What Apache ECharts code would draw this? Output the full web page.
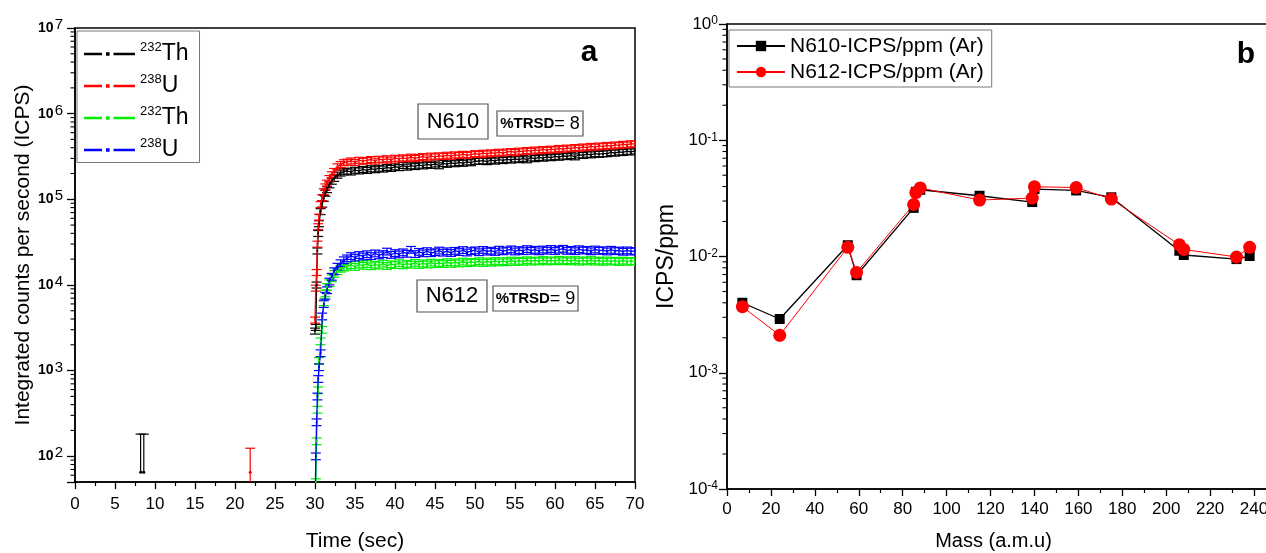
<!DOCTYPE html>
<html>
<head>
<meta charset="utf-8">
<title>ICPS time scan and sensitivity</title>
<script src="https://cdn.jsdelivr.net/npm/echarts@6/dist/echarts.min.js"></script>
<style>
  html, body { margin: 0; padding: 0; background: #fff; }
  #chart { width: 1266px; height: 553px; }
</style>
</head>
<body>
<div id="chart"></div>
<script>
// ---- panel a: integrated counts vs time (values in thousands of counts) ----
const times = [
  30.0, 30.1, 30.2, 30.3, 30.4, 30.5, 30.7, 30.9, 31.1, 31.3, 31.5, 31.8, 32.1, 32.4, 32.8, 33.2, 33.6,
  34.0, 34.5, 35.0, 35.5, 36.0, 36.5, 37.0, 37.5, 38.0, 38.5,
  39.0, 39.5, 40.0, 40.5, 41.0, 41.5, 42.0, 42.5, 43.0, 43.5,
  44.0, 44.5, 45.0, 45.5, 46.0, 46.5, 47.0, 47.5, 48.0, 48.5,
  49.0, 49.5, 50.0, 50.5, 51.0, 51.5, 52.0, 52.5, 53.0, 53.5,
  54.0, 54.5, 55.0, 55.5, 56.0, 56.5, 57.0, 57.5, 58.0, 58.5,
  59.0, 59.5, 60.0, 60.5, 61.0, 61.5, 62.0, 62.5, 63.0, 63.5,
  64.0, 64.5, 65.0, 65.5, 66.0, 66.5, 67.0, 67.5, 68.0, 68.5,
  69.0, 69.5, 70.0
];
const th610 = [
  2.9, 3.2, 10, 25, 40, 52, 72, 88, 103, 118, 130, 148, 163, 176, 192, 203, 210,
  214, 209, 219, 215, 224, 218, 228, 222, 231, 226,
  236, 230, 240, 235, 249, 238, 247, 242, 251, 246,
  255, 250, 259, 247, 262, 257, 266, 261, 270, 264,
  274, 268, 278, 279, 282, 276, 286, 280, 290, 284,
  293, 288, 297, 291, 301, 290, 305, 299, 309, 303,
  313, 307, 317, 311, 321, 316, 326, 314, 331, 326,
  337, 331, 342, 336, 341, 342, 353, 347, 358, 353,
  364, 358, 368
];
const u610 = [
  3.9, 9.2, 14, 30, 48, 62, 87, 105, 123, 140, 155, 175, 194, 212, 240, 255, 268,
  272, 281, 270, 286, 279, 284, 292, 280, 294, 289,
  298, 288, 302, 296, 305, 299, 311, 301, 309, 316,
  305, 320, 313, 322, 317, 328, 319, 331, 325, 336,
  327, 333, 342, 334, 346, 339, 350, 343, 355, 347,
  357, 362, 352, 366, 360, 372, 364, 377, 369, 382,
  374, 386, 379, 393, 385, 397, 390, 403, 396, 409,
  401, 415, 407, 420, 413, 426, 418, 432, 425, 439,
  431, 446, 440
];
const th612 = [
  0.02, 0.05, 0.15, 0.35, 0.59, 1.3, 2.2, 3.0, 6.3, 8.0, 9.5, 10.5, 12.0, 13.5, 14.5, 15.5, 16.0,
  16.4, 17.1, 16.3, 17.4, 16.8, 17.6, 16.6, 17.3, 16.9, 17.8,
  16.7, 17.5, 17.1, 18.0, 17.0, 17.7, 17.3, 18.2, 17.2, 17.9,
  17.4, 18.3, 17.5, 18.1, 17.6, 18.5, 17.7, 18.4, 17.9, 18.8,
  18.0, 18.6, 18.2, 19.0, 18.1, 18.8, 18.3, 19.1, 18.4, 19.0,
  18.5, 19.3, 18.6, 19.2, 18.7, 19.5, 18.8, 19.3, 18.9, 19.6,
  18.9, 19.4, 19.0, 19.7, 19.0, 19.5, 18.9, 19.6, 18.8, 19.4,
  18.9, 19.6, 18.8, 19.3, 18.7, 19.4, 18.8, 19.2, 18.6, 19.3,
  18.7, 19.1, 18.8
];
const u612 = [
  0.02, 0.1, 0.25, 0.5, 0.8, 1.1, 1.6, 4.3, 6.0, 7.5, 8.7, 11.0, 12.5, 14.5, 16.4, 18.0, 19.5,
  20.5, 21.8, 20.9, 22.4, 21.6, 22.9, 21.8, 23.4, 22.2, 23.0,
  24.6, 22.5, 23.6, 22.8, 24.1, 23.2, 25.8, 23.0, 24.4, 23.5,
  24.9, 23.6, 24.2, 25.3, 23.9, 24.8, 23.7, 25.1, 24.3, 25.6,
  24.0, 24.9, 25.4, 24.2, 25.7, 24.6, 25.2, 24.4, 25.9, 24.8,
  25.3, 26.1, 24.7, 25.6, 24.9, 26.3, 25.1, 25.8, 24.8, 26.0,
  25.2, 26.4, 25.0, 25.9, 26.5, 25.1, 25.8, 24.9, 26.2, 25.3,
  25.7, 24.8, 26.0, 25.1, 25.5, 24.7, 25.8, 24.9, 25.3, 24.5,
  25.4, 24.6, 25.0
];
const rsd610 = 8;
const rsd612 = 9;
// background blips before the ablation starts (raw counts)
const thBgTimes = [8.2, 8.6];
const thBgCounts = [65, 65];
const thBgErr = [116, 116];
const uBgTimes = [21.9];
const uBgCounts = [65];
const uBgErr = [59];

// ---- panel b: sensitivity vs mass ----
const masses = [7, 24, 55, 59, 85, 86, 88, 115, 139, 140, 159, 175, 206, 208, 232, 238];
const icps610 = [0.0040, 0.0029, 0.0125, 0.0069, 0.0262, 0.0360, 0.0375, 0.0333, 0.0294, 0.0380, 0.0370, 0.0323, 0.0112, 0.0103, 0.0095, 0.0101];
const icps612 = [0.0037, 0.0021, 0.0120, 0.0073, 0.0280, 0.0355, 0.0389, 0.0306, 0.0318, 0.0398, 0.0392, 0.0312, 0.0126, 0.0115, 0.0099, 0.0120];

const K = 1000;
const FONT = '"Liberation Sans", Arial, sans-serif';
const NARROW = '"Liberation Sans Narrow", "Arial Narrow", "Liberation Sans", sans-serif';

const pairs = (xs, ys, f) => xs.map((x, i) => [x, ys[i] * f]);
const withRsd = (xs, ys, rsd) => xs.map((x, i) => [x, ys[i] * K, ys[i] * K * rsd / 100]);
const withErr = (xs, ys, es) => xs.map((x, i) => [x, ys[i], es[i]]);

function errorBar(params, api) {
  const x = api.value(0), v = api.value(1), e = api.value(2);
  const hi = api.coord([x, v + e]);
  const hasLow = v - e > 0;
  const lo = api.coord([x, hasLow ? v - e : v]);
  const cap = 5;
  const style = { stroke: api.visual('color'), lineWidth: 1.2 };
  const kids = [
    { type: 'line', shape: { x1: hi[0], y1: hi[1], x2: lo[0], y2: lo[1] }, style: style },
    { type: 'line', shape: { x1: hi[0] - cap, y1: hi[1], x2: hi[0] + cap, y2: hi[1] }, style: style }
  ];
  if (hasLow) {
    kids.push({ type: 'line', shape: { x1: lo[0] - cap, y1: lo[1], x2: lo[0] + cap, y2: lo[1] }, style: style });
  }
  return { type: 'group', children: kids };
}

// short outward tick on the left axis at a log-scale value
function minorTick(params, api) {
  const p = api.coord([api.value(0), api.value(1)]);
  return { type: 'line', shape: { x1: p[0] - 4.5, y1: p[1], x2: p[0], y2: p[1] }, style: { stroke: '#000', lineWidth: 1.1 } };
}

function isPow10(v) {
  const p = Math.round(Math.log10(v));
  return Math.abs(v / Math.pow(10, p) - 1) < 1e-6;
}
function minorValues(d0, d1, lo) {
  const out = [];
  for (let d = d0; d < d1; d++) {
    for (let k = 2; k <= 9; k++) {
      const v = k * Math.pow(10, d);
      if (v > lo * 1.0001) out.push([0, v]);
    }
  }
  return out;
}

const namesA = ['232Th N610', '238U N610', '232Th N612', '238U N612'];
const colorsA = ['#000000', '#ff0000', '#00ee00', '#0000ff'];
const valuesA = [th610, u610, th612, u612];
const rsdA = [rsd610, rsd610, rsd612, rsd612];

const seriesA = [];
namesA.forEach((name, i) => {
  seriesA.push({
    type: 'line', name: name, xAxisIndex: 0, yAxisIndex: 0,
    data: pairs(times, valuesA[i], K),
    symbol: 'circle', symbolSize: 2, showSymbol: true,
    lineStyle: { color: colorsA[i], width: 1.3 },
    itemStyle: { color: colorsA[i] },
    clip: true, z: 3
  });
  seriesA.push({
    type: 'custom', name: name, xAxisIndex: 0, yAxisIndex: 0,
    renderItem: errorBar, data: withRsd(times, valuesA[i], rsdA[i]),
    encode: { x: 0, y: 1 }, itemStyle: { color: colorsA[i] },
    clip: true, z: 3
  });
});
// early background blips
[[thBgTimes, thBgCounts, thBgErr, 0], [uBgTimes, uBgCounts, uBgErr, 1]].forEach(([t, c, e, i]) => {
  seriesA.push({
    type: 'line', name: namesA[i], xAxisIndex: 0, yAxisIndex: 0,
    data: pairs(t, c, 1), symbol: 'circle', symbolSize: 3,
    lineStyle: { color: colorsA[i], width: 1.3 }, itemStyle: { color: colorsA[i] }, clip: true
  });
  seriesA.push({
    type: 'custom', name: namesA[i], xAxisIndex: 0, yAxisIndex: 0,
    renderItem: errorBar, data: withErr(t, c, e),
    encode: { x: 0, y: 1 }, itemStyle: { color: colorsA[i] }, clip: true
  });
});

const axisLineBlack = { show: true, lineStyle: { color: '#000', width: 1.5 } };
const tickBlack = (len) => ({ show: true, inside: false, length: len, lineStyle: { color: '#000', width: 1.3 } });

const chart = echarts.init(document.getElementById('chart'));
chart.setOption({
  animation: false,
  backgroundColor: '#ffffff',
  grid: [
    { left: 75, top: 28, width: 560, height: 454, show: true, borderColor: '#000', borderWidth: 1.5, outerBoundsMode: 'none' },
    { left: 727, top: 24, width: 549, height: 465, show: true, borderColor: '#000', borderWidth: 1.5, outerBoundsMode: 'none' }
  ],
  xAxis: [
    {
      gridIndex: 0, type: 'value', min: 0, max: 70, interval: 5,
      axisLine: axisLineBlack, axisTick: tickBlack(7),
      minorTick: { show: true, splitNumber: 2, length: 4, lineStyle: { color: '#000', width: 1.2 } },
      splitLine: { show: false },
      axisLabel: { color: '#000', fontSize: 17, fontFamily: NARROW, margin: 14 },
      name: 'Time (sec)', nameLocation: 'middle', nameGap: 49,
      nameTextStyle: { color: '#000', fontSize: 21, fontFamily: FONT }
    },
    {
      gridIndex: 1, type: 'value', min: 0, max: 250, interval: 20,
      axisLine: axisLineBlack, axisTick: tickBlack(7),
      minorTick: { show: true, splitNumber: 2, length: 4, lineStyle: { color: '#000', width: 1.2 } },
      splitLine: { show: false },
      axisLabel: { color: '#000', fontSize: 17, fontFamily: FONT, margin: 12, showMaxLabel: false },
      name: 'Mass (a.m.u)', nameLocation: 'middle', nameGap: 42,
      nameTextStyle: { color: '#000', fontSize: 20, fontFamily: FONT, padding: [0, 16, 0, 0] }
    }
  ],
  yAxis: [
    {
      gridIndex: 0, type: 'log', logBase: 10, min: 50, max: 1e7,
      axisLine: axisLineBlack, axisTick: tickBlack(8), splitLine: { show: false },
      axisLabel: {
        margin: 12,
        formatter: (v) => isPow10(v) ? '{b|10}{e|' + Math.round(Math.log10(v)) + '}' : '',
        rich: {
          b: { fontSize: 14, fontWeight: 'bold', fontFamily: NARROW, color: '#000' },
          e: { fontSize: 15, fontFamily: NARROW, color: '#000', verticalAlign: 'top', padding: [0, 0, 6, 1] }
        }
      },
      name: 'Integrated counts per second (ICPS)', nameLocation: 'middle', nameGap: 41,
      nameTextStyle: { color: '#000', fontSize: 21, fontFamily: FONT }
    },
    {
      gridIndex: 1, type: 'log', logBase: 10, min: 1e-4, max: 1,
      axisLine: axisLineBlack, axisTick: tickBlack(8), splitLine: { show: false },
      axisLabel: {
        margin: 9,
        formatter: (v) => isPow10(v) ? '{b|10}{e|' + Math.round(Math.log10(v)) + '}' : '',
        rich: {
          b: { fontSize: 17, fontFamily: FONT, color: '#000' },
          e: { fontSize: 12, fontFamily: FONT, color: '#000', verticalAlign: 'top', padding: [0, 0, 6, 0] }
        }
      },
      name: 'ICPS/ppm', nameLocation: 'middle', nameGap: 49,
      nameTextStyle: { color: '#000', fontSize: 23, fontFamily: FONT }
    }
  ],
  legend: [
    {
      data: namesA, left: 77, top: 31, orient: 'vertical',
      icon: 'path://M0,0.6h18v2.4h-18z M22,0h3.6v3.6h-3.6z M29.5,0.6h21.5v2.4h-21.5z',
      itemWidth: 51, itemHeight: 3.6, itemGap: 7.5, padding: [10, 11, 1, 7],
      borderColor: '#777', borderWidth: 1, backgroundColor: '#fff',
      selectedMode: false,
      formatter: (name) => {
        const m = name.match(/^(\d+)([A-Za-z]+)/);
        return '{s|' + m[1] + '}{e|' + m[2] + '}';
      },
      textStyle: {
        color: '#000',
        rich: {
          s: { fontSize: 13, fontFamily: FONT, color: '#000', verticalAlign: 'top', lineHeight: 16 },
          e: { fontSize: 23, fontFamily: NARROW, color: '#000', lineHeight: 26 }
        }
      }
    },
    {
      data: ['N610-ICPS/ppm (Ar)', 'N612-ICPS/ppm (Ar)'], left: 729, top: 30, orient: 'vertical',
      itemWidth: 48, itemHeight: 13, itemGap: 4, padding: [5, 8, 4, 7],
      borderColor: '#777', borderWidth: 1, backgroundColor: '#fff', selectedMode: false,
      textStyle: { color: '#000', fontSize: 21, fontFamily: FONT, lineHeight: 22 }
    }
  ],
  graphic: [
    { type: 'rect', shape: { x: 418, y: 104, width: 70, height: 35 }, style: { fill: '#fff', stroke: '#555', lineWidth: 1.2 }, z: 10 },
    { type: 'text', x: 453, y: 122, style: { text: 'N610', font: '22px ' + FONT, fill: '#000', align: 'center', verticalAlign: 'middle' }, z: 11 },
    { type: 'rect', shape: { x: 497, y: 111, width: 86, height: 25 }, style: { fill: '#fff', stroke: '#555', lineWidth: 1.2 }, z: 10 },
    { type: 'text', x: 540, y: 124, style: {
        text: '{b|%TRSD}{n|= 8}', align: 'center', verticalAlign: 'middle',
        rich: { b: { fontSize: 15, fontWeight: 'bold', fontFamily: FONT, fill: '#000' }, n: { fontSize: 18, fontFamily: FONT, fill: '#000' } }
      }, z: 11 },
    { type: 'rect', shape: { x: 417, y: 280, width: 70, height: 32 }, style: { fill: '#fff', stroke: '#555', lineWidth: 1.2 }, z: 10 },
    { type: 'text', x: 452, y: 296, style: { text: 'N612', font: '22px ' + FONT, fill: '#000', align: 'center', verticalAlign: 'middle' }, z: 11 },
    { type: 'rect', shape: { x: 493, y: 286, width: 85, height: 25 }, style: { fill: '#fff', stroke: '#555', lineWidth: 1.2 }, z: 10 },
    { type: 'text', x: 535.5, y: 299, style: {
        text: '{b|%TRSD}{n|= 9}', align: 'center', verticalAlign: 'middle',
        rich: { b: { fontSize: 15, fontWeight: 'bold', fontFamily: FONT, fill: '#000' }, n: { fontSize: 18, fontFamily: FONT, fill: '#000' } }
      }, z: 11 },
    { type: 'text', x: 589, y: 53, style: { text: 'a', font: 'bold 30px ' + FONT, fill: '#000', align: 'center', verticalAlign: 'middle' }, z: 11 },
    { type: 'text', x: 1246, y: 55, style: { text: 'b', font: 'bold 30px ' + FONT, fill: '#000', align: 'center', verticalAlign: 'middle' }, z: 11 }
  ],
  series: seriesA.concat([
    {
      type: 'line', name: 'N610-ICPS/ppm (Ar)', xAxisIndex: 1, yAxisIndex: 1,
      data: pairs(masses, icps610, 1), symbol: 'rect', symbolSize: 10,
      lineStyle: { color: '#000', width: 1.3 }, itemStyle: { color: '#000' }
    },
    {
      type: 'line', name: 'N612-ICPS/ppm (Ar)', xAxisIndex: 1, yAxisIndex: 1,
      data: pairs(masses, icps612, 1), symbol: 'circle', symbolSize: 13,
      lineStyle: { color: '#ff0000', width: 1 }, itemStyle: { color: '#ff0000' }
    },
    {
      type: 'custom', xAxisIndex: 0, yAxisIndex: 0, renderItem: minorTick,
      data: minorValues(1, 7, 50), clip: false, silent: true, z: 5
    },
    {
      type: 'custom', xAxisIndex: 1, yAxisIndex: 1, renderItem: minorTick,
      data: minorValues(-4, 0, 1e-4), clip: false, silent: true, z: 5
    }
  ])
});
</script>
</body>
</html>
